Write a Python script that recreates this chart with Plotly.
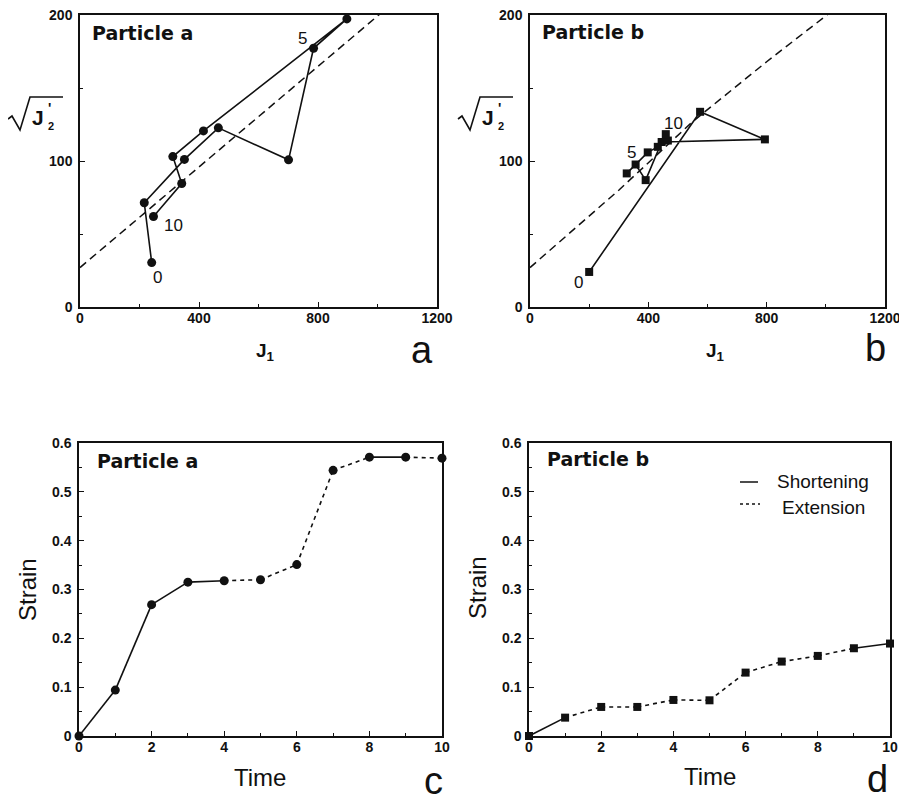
import plotly.graph_objects as go

# page body has an 8px margin: figure placed at (8,8) inside the 907x803 window
OFF = 8
W, H = 907 - OFF, 803 - OFF

# ---------------- data ----------------
# Panel a: particle a stress path (time steps 0..10)
a_J1 = [241, 216, 351, 465, 701, 785, 897, 415, 312, 342, 247]
a_sqrtJ2 = [30.4, 71.4, 101.1, 122.7, 100.8, 177.2, 197.3, 120.6, 103.0, 84.6, 62.0]
# Panel b: particle b stress path (time steps 0..10)
b_J1 = [200, 575, 794, 445, 391, 357, 327, 398, 432, 466, 459]
b_sqrtJ2 = [24.0, 133.7, 114.8, 113.0, 86.9, 97.6, 91.5, 105.9, 109.7, 114.0, 118.4]
# yield envelope (dashed)
a_env_J1 = [0, 1010]
a_env_sqrtJ2 = [27, 201]
b_env_J1 = [0, 300, 550, 800, 1010]
b_env_sqrtJ2 = [27, 80, 127, 168, 201]

# Panels c, d: strain vs time
time = [0, 1, 2, 3, 4, 5, 6, 7, 8, 9, 10]
strain_a = [0, 0.094, 0.269, 0.315, 0.318, 0.320, 0.351, 0.544, 0.571, 0.571, 0.569]
strain_b = [0, 0.0376, 0.0595, 0.0595, 0.0738, 0.0731, 0.1298, 0.1524, 0.164, 0.1797, 0.1893]
# segment mode: S = shortening (solid), E = extension (dotted)
mode_a = ["S", "S", "S", "S", "E", "E", "E", "E", "S", "E"]
mode_b = ["S", "E", "E", "E", "E", "E", "E", "E", "E", "S"]

# tick labels
j_ticks = [0, 400, 800, 1200]
sj_ticks = [0, 100, 200]
t_ticks = [0, 2, 4, 6, 8, 10]
s_ticks = [0, 0.1, 0.2, 0.3, 0.4, 0.5, 0.6]
s_ticktext = ["0", "0.1", "0.2", "0.3", "0.4", "0.5", "0.6"]

# ---------------- helpers ----------------
def px(x):
    return (x - OFF) / W

def py(y):
    return 1 - (y - OFF) / H

BLACK = "#111111"
FONT = "Liberation Sans"
DOT = "4px,4px"

fig = go.Figure()

# ---------- panels a & b ----------
for i, (xs, ys, ex, ey, sym) in enumerate([
    (a_J1, a_sqrtJ2, a_env_J1, a_env_sqrtJ2, "circle"),
    (b_J1, b_sqrtJ2, b_env_J1, b_env_sqrtJ2, "square"),
]):
    xa = "x" if i == 0 else "x2"
    ya = "y" if i == 0 else "y2"
    fig.add_trace(go.Scatter(x=ex, y=ey, mode="lines", xaxis=xa, yaxis=ya,
                             line=dict(color=BLACK, width=1.5, dash="8px,5px"),
                             showlegend=False, hoverinfo="skip"))
    fig.add_trace(go.Scatter(x=xs, y=ys, mode="lines+markers", xaxis=xa, yaxis=ya,
                             line=dict(color=BLACK, width=1.6),
                             marker=dict(symbol=sym, size=9 if sym == "circle" else 8,
                                         color=BLACK),
                             cliponaxis=False, showlegend=False))

# ---------- panels c & d ----------
for i, (ys, modes, sym) in enumerate([
    (strain_a, mode_a, "circle"),
    (strain_b, mode_b, "square"),
]):
    xa = "x3" if i == 0 else "x4"
    ya = "y3" if i == 0 else "y4"
    for k, m in enumerate(modes):
        fig.add_trace(go.Scatter(x=time[k:k + 2], y=ys[k:k + 2], mode="lines",
                                 xaxis=xa, yaxis=ya,
                                 line=dict(color=BLACK, width=1.6,
                                           dash="solid" if m == "S" else DOT),
                                 showlegend=False, hoverinfo="skip"))
    fig.add_trace(go.Scatter(x=time, y=ys, mode="markers", xaxis=xa, yaxis=ya,
                             marker=dict(symbol=sym, size=9 if sym == "circle" else 8,
                                         color=BLACK),
                             cliponaxis=False, showlegend=False))

# ---------- axes ----------
def axis_common(domain, rng, vals, texts, minor_dtick, anchor, is_x):
    d = dict(domain=domain, range=rng, anchor=anchor,
             tickmode="array", tickvals=vals,
             ticktext=[f"<b>{t}</b>" for t in texts],
             showgrid=False, zeroline=False, automargin=False,
             showline=True, linecolor=BLACK, linewidth=1.5, mirror=True,
             ticks="inside", ticklen=5, tickwidth=1, tickcolor=BLACK,
             minor=dict(ticks="inside", ticklen=3, tickwidth=1, tickcolor=BLACK,
                        dtick=minor_dtick, tick0=0, showgrid=False),
             tickfont=dict(family=FONT, size=14, color=BLACK),
             ticklabelstandoff=(-3 if is_x else 3),
             ticklabeloverflow="allow",
             fixedrange=True)
    return d

xa_dom = [px(80), px(437)]
xb_dom = [px(530), px(885)]
yab_dom = [py(307), py(15)]
xc_dom = [px(79), px(442)]
xd_dom = [px(529), px(890)]
ycd_dom = [py(736), py(443)]

fig.update_layout(
    xaxis=axis_common(xa_dom, [0, 1200], j_ticks, j_ticks, 200, "y", True),
    yaxis=axis_common(yab_dom, [0, 200], sj_ticks, sj_ticks, 50, "x", False),
    xaxis2=axis_common(xb_dom, [0, 1200], j_ticks, j_ticks, 200, "y2", True),
    yaxis2=axis_common(yab_dom, [0, 200], sj_ticks, sj_ticks, 50, "x2", False),
    xaxis3=axis_common(xc_dom, [0, 10], t_ticks, t_ticks, 1, "y3", True),
    yaxis3=axis_common(ycd_dom, [0, 0.6], s_ticks, s_ticktext, 0.05, "x3", False),
    xaxis4=axis_common(xd_dom, [0, 10], t_ticks, t_ticks, 1, "y4", True),
    yaxis4=axis_common(ycd_dom, [0, 0.6], s_ticks, s_ticktext, 0.05, "x4", False),
)

annotations = []
shapes = []

def note(x, y, text, size, bold=False, xanchor="center", yanchor="middle", **kw):
    annotations.append(dict(x=px(x), y=py(y), xref="paper", yref="paper",
                            text=text, showarrow=False, xanchor=xanchor,
                            yanchor=yanchor,
                            font=dict(family=kw.pop("family", FONT), size=size,
                                      color=BLACK,
                                      weight="bold" if bold else "normal"),
                            **kw))

# panel titles
note(90, 33, "<b>Particle a</b>", 19, bold=True, xanchor="left", family="DejaVu Sans")
note(540, 32, "<b>Particle b</b>", 19, bold=True, xanchor="left", family="DejaVu Sans")
note(95, 461, "<b>Particle a</b>", 19, bold=True, xanchor="left", family="DejaVu Sans")
note(545, 459, "<b>Particle b</b>", 19, bold=True, xanchor="left", family="DejaVu Sans")

# panel letters
note(422, 350, "a", 38)
note(875, 348, "b", 38)
note(433, 781, "c", 38)
note(877, 779, "d", 38)

# x-axis titles
note(265, 352, "<b>J<sub>1</sub></b>", 19, bold=True)
note(715, 352, "<b>J<sub>1</sub></b>", 19, bold=True)
note(260, 777, "Time", 24)
note(710, 776, "Time", 24)
# Strain titles
note(27, 590, "Strain", 24, textangle=-90)
note(477, 588, "Strain", 24, textangle=-90)

# sqrt(J2') titles with radical sign
for ox in (0, 450):
    path = (f"M {px(ox+8)},{py(119)} L {px(ox+12)},{py(116)} L {px(ox+20)},{py(130)} "
            f"L {px(ox+30)},{py(97)} L {px(ox+63)},{py(97)}")
    shapes.append(dict(type="path", path=path, xref="paper", yref="paper",
                       line=dict(color=BLACK, width=1.6)))
    note(ox + 38, 118, "<b>J</b>", 21, bold=True)
    note(ox + 49, 108, "<b>'</b>", 14, bold=True)
    note(ox + 51, 126, "<b>2</b>", 11, bold=True)

# point labels (time step numbers)
def pt_label(xref, yref, x, y, text, xs, ys):
    annotations.append(dict(x=x, y=y, xref=xref, yref=yref, text=text,
                            showarrow=False, xshift=xs, yshift=ys,
                            font=dict(family=FONT, size=17, color=BLACK)))

pt_label("x", "y", a_J1[0], a_sqrtJ2[0], "0", 6, -15)
pt_label("x", "y", a_J1[10], a_sqrtJ2[10], "10", 20, -9)
pt_label("x", "y", a_J1[5], a_sqrtJ2[5], "5", -11, 10)
pt_label("x2", "y2", b_J1[0], b_sqrtJ2[0], "0", -11, -11)
pt_label("x2", "y2", b_J1[5], b_sqrtJ2[5], "5", -4, 12)
pt_label("x2", "y2", b_J1[10], b_sqrtJ2[10], "10", 8, 11)

# legend in panel d
shapes.append(dict(type="line", xref="paper", yref="paper",
                   x0=px(740), x1=px(758), y0=py(482), y1=py(482),
                   line=dict(color=BLACK, width=1.5)))
shapes.append(dict(type="line", xref="paper", yref="paper",
                   x0=px(740), x1=px(760), y0=py(504), y1=py(504),
                   line=dict(color=BLACK, width=1.5, dash="3px,3px")))
note(823, 481, "Shortening", 19)
note(823, 507, "Extension", 19)

fig.update_layout(
    width=W, height=H, autosize=False,
    margin=dict(l=0, r=0, t=0, b=0, autoexpand=False),
    paper_bgcolor="white", plot_bgcolor="white",
    annotations=annotations, shapes=shapes,
    showlegend=False,
)

fig.write_html("out.html")
